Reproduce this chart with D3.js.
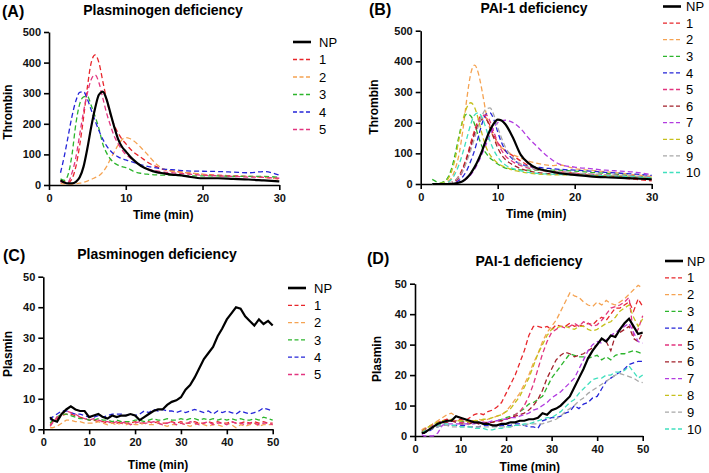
<!DOCTYPE html>
<html>
<head>
<meta charset="utf-8">
<script src="https://cdn.jsdelivr.net/npm/d3@7"></script>
<style>
  body { margin: 0; background: #fff; }
  text { font-family: "Liberation Sans", Arial, sans-serif; }
</style>
</head>
<body>
<script>
// ---- data ----
var namesA = ["NP", "1", "2", "3", "4", "5"];
var namesB = ["NP", "1", "2", "3", "4", "5", "6", "7", "8", "9", "10"];
var colorsByName = {
  "NP": "#000000", "1": "#e8262b", "2": "#f5a352", "3": "#2cb52c", "4": "#2424d8",
  "5": "#e2357f", "6": "#a2212a", "7": "#b23ce0", "8": "#c6c01c", "9": "#a8a8a8", "10": "#40e0be"
};

var thrombinTicks = [0, 100, 200, 300, 400, 500];
var plasminTicks  = [0, 10, 20, 30, 40, 50];
var time30Ticks   = [0, 10, 20, 30];
var time50Ticks   = [0, 10, 20, 30, 40, 50];

// thrombin sample times (min)
var timeThrombin = [1.5,2,2.5,3,3.5,4,4.5,5,5.5,6,6.5,7,7.5,8,8.5,9,9.5,10,10.5,11,12,13,14,15,16,17,18,20,22,24,26,28,30];

// (A) plasminogen deficiency, thrombin
var thrA_NP = [15,8,5,5,10,25,60,120,190,250,295,305,280,235,190,150,125,110,95,82,62,50,42,38,34,32,28,22,22,20,18,15,12];
var thrA_1  = [15,10,8,20,60,130,220,320,400,425,400,340,280,230,195,170,150,135,120,108,90,72,60,50,46,43,40,35,32,30,28,25,20];
var thrA_2  = [5,3,2,3,4,6,9,13,18,24,30,42,60,85,108,130,148,155,152,145,122,95,68,52,45,42,40,35,30,28,28,25,20];
var thrA_3  = [20,15,35,100,200,265,288,290,260,225,185,135,105,85,72,65,60,57,52,45,38,35,33,32,32,31,30,30,30,28,28,28,25];
var thrA_4  = [40,95,160,225,275,303,305,280,245,210,178,150,128,112,100,92,86,82,78,74,66,60,56,52,50,48,46,45,44,42,40,44,32];
var thrA_5  = [10,8,10,40,90,165,240,300,345,360,335,285,235,195,160,135,115,100,90,80,62,52,46,42,40,38,36,32,30,28,26,25,22];

// (B) PAI-1 deficiency, thrombin
var thrB_NP = [0,0,0,0,0,0,2,5,10,20,35,55,80,110,145,175,198,210,207,195,150,95,68,52,45,40,35,30,25,22,20,18,15];
var thrB_1  = [0,0,0,0,2,5,12,28,55,90,135,175,210,225,215,190,160,135,120,108,92,75,60,50,45,42,40,35,30,25,20,15,10];
var thrB_2  = [0,0,0,2,8,20,50,100,180,280,360,388,360,300,230,180,150,130,118,110,95,85,75,68,63,60,62,50,45,40,35,30,25];
var thrB_3  = [15,8,3,8,20,50,100,160,210,228,222,195,155,120,100,85,75,65,58,52,48,46,45,45,45,45,45,42,38,35,30,25,20];
var thrB_4  = [0,0,0,0,0,2,5,12,25,45,75,110,155,200,228,232,210,170,135,110,80,65,58,55,52,50,48,45,42,38,35,32,28];
var thrB_5  = [0,0,0,0,0,3,8,20,45,80,120,165,200,222,225,205,170,135,110,92,72,60,52,47,43,40,38,35,32,30,28,25,22];
var thrB_6  = [0,0,0,0,0,3,10,25,50,85,125,165,195,212,210,185,150,118,95,80,62,50,42,38,35,33,32,30,28,26,24,20,15];
var thrB_7  = [0,0,0,0,0,0,2,5,10,18,30,48,72,100,130,160,185,200,207,208,200,180,150,125,100,80,65,55,50,45,42,38,30];
var thrB_8  = [0,0,2,5,15,40,85,150,210,250,265,250,210,160,120,95,80,68,60,55,45,40,36,33,31,30,30,30,28,27,26,24,20];
var thrB_9  = [0,0,0,0,2,5,12,25,45,75,110,150,190,225,245,248,225,185,150,120,85,65,55,48,44,42,40,36,33,30,28,25,22];
var thrB_10 = [0,0,0,2,5,15,35,65,105,150,195,225,232,215,180,140,110,88,72,62,50,43,38,35,33,32,31,30,28,27,25,23,20];

// plasmin sample times (min)
var timePlasmin = [1.5,2,3,4,5,6,7,8,9,10,11,12,13,14,15,16,17,18,19,20,21,22,23,24,25,26,27,28,29,30,
                   31,32,33,34,35,36,37,38,39,40,41,42,43,44,45,46,47,48,49,50];

// (C) plasminogen deficiency, plasmin
var plaC_NP = [4,3,2.5,5,6.5,7.5,6.5,6,6,4, 4.5,5,4,3.5,4.5,4,4.5,4.5,5,4.5, 3,4,5,6,6.5,6.5,8,9,9.5,10.5,
               13,14.5,17,20,23,25,27,30.5,33,36, 38,40,39.5,37,35.5,34,36,34.5,35.5,34];
var plaC_1  = [1.5,2.5,3.5,4.5,5,5,4.5,4,3.5,3, 3,2.5,2.5,2,2.5,2,2.5,2,2,2.5, 2,2,2.5,2,2.5,2,2,2.5,2,2.5,
               2,2,2.5,2,2,2.5,2,2.5,2,2, 2.5,2,2,2.5,2,2.5,2,2.5,2,2];
var plaC_2  = [0.5,0.5,1,2,3,3,2.5,2.5,2,2, 2,2.5,2,1.5,2,1.5,2,1.5,2,1.5, 1.5,2,1.5,1.5,2,1.5,1,1.5,1.5,2,
               1.5,1,1.5,2,1.5,1,1.5,1.5,1,2, 1.5,0.5,1.5,1,1.5,2,1,1.5,1.5,1.5];
var plaC_3  = [2,3,4,5,5,4.5,4,3.5,3.5,3, 3,3.5,3,3,2.5,3,2.5,2.5,2.5,3, 3,2.5,3,3.5,3,3,3.5,3,3,3.5,
               3,3.5,3.5,3,3.5,3,3.5,3,3.5,3, 3.5,3,3.5,3,3,3.5,3,4,3.5,3];
var plaC_4  = [3,4,5,6,6,5.5,5,5,4.5,4, 4,4.5,4,4.5,5,5,5,4.5,5,4.5, 5,6,5.5,6.5,6,6.5,6,6,5.5,6,
               5.5,6,6.5,6,5.5,6,5,6,5.5,6, 5.5,5,6,5.5,5,5.5,6,7,6.5,6];
var plaC_5  = [1,2,4,5,6,5.5,5,4,3.5,3, 3.5,3,2.5,2.5,2,2.5,2,2.5,1.5,2, 2.5,2,2,2.5,2,1.5,2,2.5,1.5,2,
               1.5,2.5,2,1.5,2,2.5,1.5,2,2,1.5, 2.5,2,2,1.5,2,2,1.5,2,2,1.5];

// (D) PAI-1 deficiency, plasmin
var plaD_NP = [1,1,2,3,4,4.5,5,5,6.5,6, 5.5,5,4.5,4.5,4,4,3.5,3.5,4,4, 4.5,4.5,5,5,5.5,5.5,6,7.5,7,8.5,
               9,10,11.5,13,16,19,22,25.5,28,30, 32,31,33,32.5,35,37,38.5,36,33.5,34];
var plaD_1  = [2,2,3,4,4.5,5,5.5,5,5,5.5, 5,6,7,7.5,7,8,8.5,9.5,11,14, 17,20,24,28,33,36,36,35.5,36,35,
               36.5,36,36,37,36,36.5,36,37,36.5,38, 39,38,40,42,42,43,44,41,45,42.5];
var plaD_2  = [2,2.5,3,4,5,6,7,7.5,6.5,6, 5.5,5,5,5.5,5,5.5,6,6.5,7,8, 10,12,14,17,20,24,27,31,34,36,
               38,41,44,47,46,45.5,44,43,42.5,44, 43,44.5,43.5,43,44,45,46.5,48,49.5,48.5];
var plaD_3  = [1.5,2,3,3.5,4,4.5,5,5,5,5, 4.5,4.5,4,4.5,4,4.5,4.5,5,5.5,6, 6.5,7,8,9,10.5,11,12,13,16,19,
               21,23,25,27,26.5,26,26,25.5,26,26.5, 25,26,25,26.5,27,27,27.5,28,27.5,27];
var plaD_4  = [1,1,1.5,2.5,3,3.5,3.5,3.5,3.5,3.5, 3.5,3,3,3,3.5,3.5,3.5,3,3.5,3.5, 3.5,4,4,3.5,3,3,2.5,5,5.5,6,
               6,6.5,7.5,8,10,9,10.5,11,12.5,13, 15.5,18,19,20,21,22,23.5,24,24.5,24.5];
var plaD_5  = [1.5,2,3,3.5,4,4.5,5,5,5,4.5, 4.5,4.5,4.5,4,4.5,4.5,4.5,5,5,5.5, 6,7,8,10,13,17,22,27,31,34,
               35,36,35.5,36,37,36,37.5,37,36,36.5, 38,40,42,42.5,43,44,45.5,33,35,39.5];
var plaD_6  = [1,1.5,2,3,3.5,4,4.5,5,4.5,4, 4,4,4.5,4,4,4.5,4.5,5,5,5.5, 6,6.5,7,7.5,8.5,10,12,15,19,22,
               25,26.5,27.5,27,26,26.5,27,28,29,30, 32,31,28,33,34,35,36,32,31,34];
var plaD_7  = [0.5,0,0,0,1,3.5,4,4,4,4, 4,4,4,4.5,4.5,4.5,5,5,5.5,5.5, 6,6,6.5,7,7.5,8.5,9,10,11,12.5,
               13.5,14.5,16,17.5,19,22,25,28,30,31, 30.5,31.5,33,34,35,36,37,34,31,30.5];
var plaD_8  = [1,2,3,4,4.5,5,5,5.5,5,5, 5,4.5,5,5,5.5,5.5,6,6.5,7,8, 9,11,13,16,19,23,27,30,33,35,
               35.5,36,36,35.5,35,36,36,35,34.5,35, 36,37,37.5,39,41,42,43,39,36,38.5];
var plaD_9  = [1,1,2,2.5,3,3.5,3.5,3,3,3, 3,3,3,3,3,3,3,3,3,3, 3,3.5,3.5,3.5,4,4,4,4,4.5,5,
               5.5,6.5,8,9,10,11.5,12.5,14,15,16, 17,18,19,20,20.5,20,19.5,19,18,17.5];
var plaD_10 = [1,1.5,2,3,3.5,4,4,3.5,3.5,3, 3,3,2.5,2.5,2.5,2,2,2.5,2.5,3, 3,3.5,3.5,4,4,4.5,5,5.5,6,6,
               7,8,9.5,11,12,14,15.5,17,18.5,19, 19,20,20,21,21,21.5,23,21,19,20];

// ---- drawing ----
var svg = d3.select("body").append("svg")
            .attr("width", 709)
            .attr("height", 473);

function drawPanel(p) {
  var x = d3.scaleLinear().domain(p.xDomain).range([p.left, p.right]);
  var y = d3.scaleLinear().domain(p.yDomain).range([p.bottom, p.top]);
  var g = svg.append("g");

  var xAxis = g.append("g")
               .attr("transform", "translate(0," + p.bottom + ")")
               .call(d3.axisBottom(x).tickValues(p.xTicks).tickSize(5).tickSizeOuter(0).tickPadding(4));
  var yAxis = g.append("g")
               .attr("transform", "translate(" + p.left + ",0)")
               .call(d3.axisLeft(y).tickValues(p.yTicks).tickSize(5).tickSizeOuter(0).tickPadding(3));
  [xAxis, yAxis].forEach(function(a) {
    a.selectAll("path, line").attr("stroke", "#000").attr("stroke-width", 1.6);
    a.selectAll("text").attr("fill", "#111").style("font-size", "11px").style("font-weight", "bold");
  });

  var line = d3.line()
               .x(function(d, i) { return x(p.times[i]); })
               .y(function(d) { return y(d); })
               .curve(p.curve);

  // dashed series under the NP curve
  var order = p.series.slice(1).concat([p.series[0]]);
  g.selectAll("path.series")
   .data(order)
   .enter()
   .append("path")
   .attr("class", "series")
   .attr("d", function(s) { return line(s.values); })
   .attr("fill", "none")
   .attr("stroke", function(s) { return colorsByName[s.name]; })
   .attr("stroke-width", function(s) { return s.name === "NP" ? 2.2 : 1.3; })
   .attr("stroke-dasharray", function(s) { return s.name === "NP" ? null : "5,3"; });

  // titles and labels
  g.append("text").attr("x", p.letterX).attr("y", p.letterY)
   .style("font-size", "16px").style("font-weight", "bold").text(p.letter);
  g.append("text").attr("x", p.titleX).attr("y", p.titleY).attr("text-anchor", "middle")
   .style("font-size", "14px").style("font-weight", "bold").text(p.title);
  g.append("text").attr("x", (p.left + p.right) / 2 + p.xLabelDx).attr("y", p.xLabelY).attr("text-anchor", "middle")
   .style("font-size", "12px").style("font-weight", "bold").text("Time (min)");
  g.append("text").attr("transform", "translate(" + p.yLabelX + "," + p.yLabelY + ") rotate(-90)")
   .attr("text-anchor", "middle")
   .style("font-size", "12px").style("font-weight", "bold").text(p.yLabel);

  // legend
  var leg = g.selectAll("g.leg")
             .data(p.series)
             .enter()
             .append("g")
             .attr("class", "leg")
             .attr("transform", function(s, i) { return "translate(" + p.legX + "," + (p.legY + i * p.legStep) + ")"; });
  leg.append("line")
     .attr("x1", 0).attr("x2", 18)
     .attr("stroke", function(s) { return colorsByName[s.name]; })
     .attr("stroke-width", function(s) { return s.name === "NP" ? 2.6 : 1.3; })
     .attr("stroke-dasharray", function(s) { return s.name === "NP" ? null : "4,2.5"; });
  leg.append("text")
     .attr("x", p.legTextDx).attr("dy", "0.36em")
     .style("font-size", "13px")
     .text(function(s) { return s.name; });
}

function makeSeries(names, arrays) {
  return names.map(function(n, i) { return { name: n, values: arrays[i] }; });
}

drawPanel({
  letter: "(A)", title: "Plasminogen deficiency", yLabel: "Thrombin",
  left: 49, right: 279.3, bottom: 185, top: 32,
  xDomain: [0, 30], yDomain: [0, 500], xTicks: time30Ticks, yTicks: thrombinTicks,
  times: timeThrombin, curve: d3.curveMonotoneX,
  series: makeSeries(namesA, [thrA_NP, thrA_1, thrA_2, thrA_3, thrA_4, thrA_5]),
  letterX: 2, letterY: 17, titleX: 163, titleY: 15,
  xLabelDx: -1, xLabelY: 219, yLabelX: 12, yLabelY: 112,
  legX: 293, legY: 42, legStep: 17.5, legTextDx: 26
});

drawPanel({
  letter: "(B)", title: "PAI-1 deficiency", yLabel: "Thrombin",
  left: 420.7, right: 651.7, bottom: 184, top: 30.7,
  xDomain: [0, 30], yDomain: [0, 500], xTicks: time30Ticks, yTicks: thrombinTicks,
  times: timeThrombin, curve: d3.curveMonotoneX,
  series: makeSeries(namesB, [thrB_NP, thrB_1, thrB_2, thrB_3, thrB_4, thrB_5, thrB_6, thrB_7, thrB_8, thrB_9, thrB_10]),
  letterX: 369, letterY: 15, titleX: 534, titleY: 13,
  xLabelDx: 0, xLabelY: 218, yLabelX: 378, yLabelY: 107,
  legX: 663, legY: 6.5, legStep: 16.6, legTextDx: 23
});

drawPanel({
  letter: "(C)", title: "Plasminogen deficiency", yLabel: "Plasmin",
  left: 43.3, right: 272.7, bottom: 429.3, top: 276.7,
  xDomain: [0, 50], yDomain: [0, 50], xTicks: time50Ticks, yTicks: plasminTicks,
  times: timePlasmin, curve: d3.curveLinear,
  series: makeSeries(namesA, [plaC_NP, plaC_1, plaC_2, plaC_3, plaC_4, plaC_5]),
  letterX: 3, letterY: 261, titleX: 157, titleY: 259,
  xLabelDx: 0, xLabelY: 469, yLabelX: 12, yLabelY: 354,
  legX: 288, legY: 288, legStep: 17.3, legTextDx: 26
});

drawPanel({
  letter: "(D)", title: "PAI-1 deficiency", yLabel: "Plasmin",
  left: 415, right: 642.7, bottom: 436, top: 283.7,
  xDomain: [0, 50], yDomain: [0, 50], xTicks: time50Ticks, yTicks: plasminTicks,
  times: timePlasmin, curve: d3.curveLinear,
  series: makeSeries(namesB, [plaD_NP, plaD_1, plaD_2, plaD_3, plaD_4, plaD_5, plaD_6, plaD_7, plaD_8, plaD_9, plaD_10]),
  letterX: 367, letterY: 264, titleX: 529, titleY: 266,
  xLabelDx: 1, xLabelY: 471, yLabelX: 381, yLabelY: 359,
  legX: 665, legY: 261, legStep: 16.8, legTextDx: 22
});
</script>
</body>
</html>
